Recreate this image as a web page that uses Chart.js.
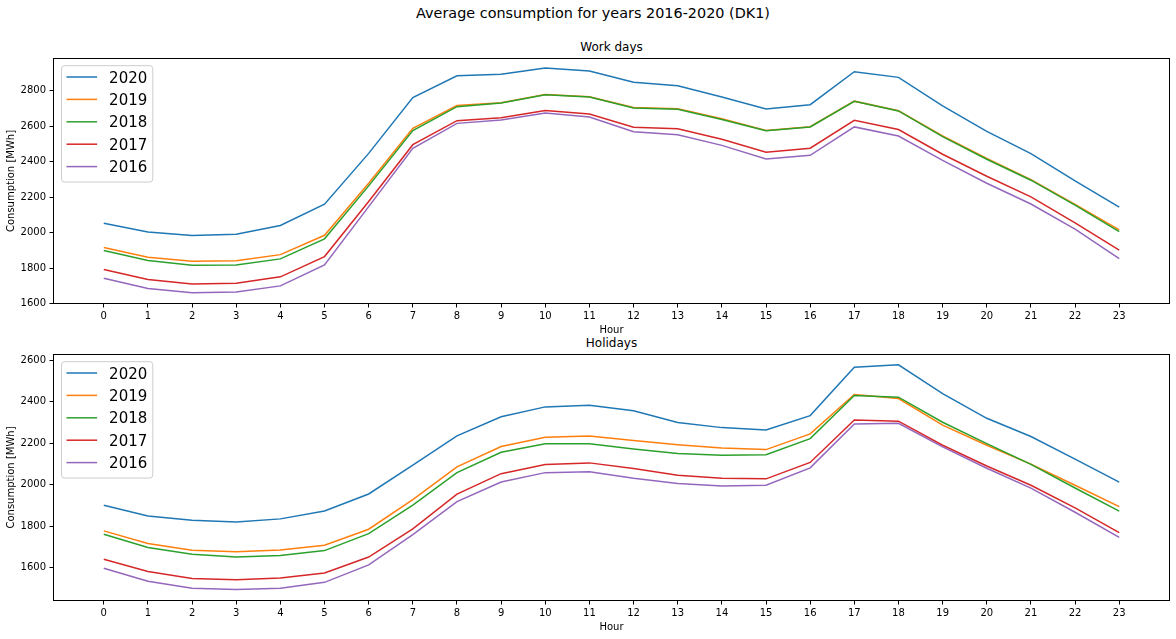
<!DOCTYPE html>
<html>
<head>
<meta charset="utf-8">
<script src="https://cdn.jsdelivr.net/npm/chart.js@4.4.1/dist/chart.umd.min.js"></script>
<style>
  html, body { margin: 0; padding: 0; background: #fff; }
  body { width: 1176px; height: 639px; position: relative; overflow: hidden; font-family: "DejaVu Sans", sans-serif; }
  .txt { position: absolute; white-space: nowrap; color: #000; line-height: 1.164; transform: translateX(-50%); }
  canvas { position: absolute; left: 0; }
</style>
</head>
<body>
<div class="txt" id="suptitle" style="left:593px; top:5px; font-size:14.4px;">Average consumption for years 2016-2020 (DK1)</div>
<div class="txt" id="t1" style="left:611.5px; top:40.7px; font-size:12px;">Work days</div>
<div class="txt" id="t2" style="left:611.5px; top:336.7px; font-size:12px;">Holidays</div>
<canvas id="c1" width="1176" height="340" style="top:0px"></canvas>
<canvas id="c2" width="1176" height="299" style="top:340px"></canvas>
<script>
// ---- data ----
const hours = [0,1,2,3,4,5,6,7,8,9,10,11,12,13,14,15,16,17,18,19,20,21,22,23];
const years = ["2020","2019","2018","2017","2016"];
const colors = ["#1f77b4","#ff7f0e","#2ca02c","#d62728","#9467bd"];

const work2020 = [2054,2005,1984,1992,2041,2161,2447,2761,2884,2892,2927,2911,2847,2828,2764,2697,2721,2907,2875,2714,2571,2446,2292,2144];
const work2019 = [1917,1862,1840,1842,1877,1986,2279,2588,2716,2732,2779,2766,2705,2698,2642,2576,2597,2741,2687,2546,2418,2299,2160,2016];
const work2018 = [1900,1844,1817,1819,1853,1966,2264,2575,2710,2731,2777,2764,2702,2696,2638,2574,2596,2740,2686,2541,2414,2296,2156,2007];
const work2017 = [1793,1737,1712,1716,1752,1866,2176,2496,2631,2648,2689,2669,2594,2586,2526,2453,2476,2633,2581,2442,2318,2202,2056,1902];
const work2016 = [1744,1686,1662,1667,1701,1819,2147,2476,2616,2635,2674,2652,2569,2552,2492,2416,2436,2596,2545,2408,2279,2162,2020,1855];

const hol2020 = [1901,1849,1828,1820,1835,1873,1955,2094,2235,2327,2375,2383,2356,2300,2275,2264,2333,2566,2578,2439,2320,2232,2123,2012];
const hol2019 = [1777,1716,1684,1676,1685,1708,1785,1928,2086,2184,2229,2235,2213,2193,2177,2169,2245,2435,2415,2287,2190,2099,1997,1894];
const hol2018 = [1761,1697,1664,1651,1658,1682,1764,1901,2058,2156,2197,2197,2172,2150,2142,2144,2222,2430,2422,2301,2198,2098,1984,1872];
const hol2017 = [1640,1581,1547,1541,1550,1574,1651,1787,1954,2053,2097,2105,2078,2045,2031,2028,2107,2312,2306,2190,2090,1997,1888,1769];
const hol2016 = [1597,1534,1500,1494,1500,1529,1613,1759,1918,2013,2058,2062,2031,2005,1994,1997,2081,2293,2296,2182,2079,1983,1867,1746];

const workTicks = [1600,1800,2000,2200,2400,2600,2800];
const holTicks = [1600,1800,2000,2200,2400,2600];
const workRange = [1599, 2984];
const holRange = [1439, 2630];

// ---- plugins ----
const frameBox = {
  id: 'frameBox',
  afterDatasetsDraw(chart) {
    const {ctx, chartArea: a} = chart;
    ctx.save();
    ctx.strokeStyle = '#000';
    ctx.lineWidth = 1;
    ctx.strokeRect(Math.round(a.left) + 0.5, Math.round(a.top) + 0.5,
                   Math.round(a.right - a.left) - 1, Math.round(a.bottom - a.top) - 1);
    ctx.restore();
  }
};
const mplLegend = {
  id: 'mplLegend',
  afterDraw(chart) {
    const {ctx, chartArea: a} = chart;
    const ds = chart.data.datasets;
    const x0 = a.left + 8.5, y0 = a.top + 7.7, w = 91.3, h = 116.3;
    ctx.save();
    ctx.beginPath();
    ctx.roundRect(x0, y0, w, h, 3);
    ctx.fillStyle = 'rgba(255,255,255,0.8)';
    ctx.fill();
    ctx.strokeStyle = '#cccccc';
    ctx.lineWidth = 1;
    ctx.stroke();
    ds.forEach((d, i) => {
      const y = y0 + 11.3 + 22.4 * i;
      ctx.beginPath();
      ctx.moveTo(x0 + 5, y);
      ctx.lineTo(x0 + 35.6, y);
      ctx.strokeStyle = d.borderColor;
      ctx.lineWidth = 1.5;
      ctx.stroke();
      ctx.fillStyle = '#000';
      ctx.font = '15px "DejaVu Sans"';
      ctx.textAlign = 'left';
      ctx.textBaseline = 'alphabetic';
      ctx.fillText(d.label, x0 + 47.6, y + 5.5);
    });
    ctx.restore();
  }
};

Chart.defaults.font.family = '"DejaVu Sans", sans-serif';
Chart.defaults.font.size = 10;
Chart.defaults.color = '#000';

function makeChart(id, series, yTicks, yRange, pad) {
  const datasets = series.map((vals, i) => ({
    label: years[i],
    data: hours.map((hr, j) => ({x: hr, y: vals[j]})),
    borderColor: colors[i],
    backgroundColor: colors[i],
    borderWidth: 1.5,
    pointRadius: 0,
    pointHoverRadius: 0,
    tension: 0,
    fill: false,
    order: -i
  }));
  return new Chart(document.getElementById(id), {
    type: 'line',
    data: { datasets },
    options: {
      responsive: false,
      animation: false,
      devicePixelRatio: 1,
      layout: { padding: pad },
      plugins: { legend: { display: false }, title: { display: false }, tooltip: { enabled: false } },
      scales: {
        x: {
          type: 'linear',
          min: -1.15, max: 24.15,
          afterBuildTicks(s) { s.ticks = hours.map(v => ({value: v})); },
          afterFit(s) { s.height = 32; },
          grid: { drawOnChartArea: false, drawTicks: true, tickLength: 3.5, color: '#000', tickColor: '#000', lineWidth: 1 },
          border: { display: false },
          ticks: { padding: 3, autoSkip: false, maxRotation: 0, font: { size: 10 }, color: '#000' },
          title: { display: true, text: 'Hour', font: { size: 10 }, color: '#000', padding: { top: 0, bottom: 0 } }
        },
        y: {
          type: 'linear',
          min: yRange[0], max: yRange[1],
          afterBuildTicks(s) { s.ticks = yTicks.map(v => ({value: v})); },
          afterFit(s) { s.width = 53; },
          grid: { drawOnChartArea: false, drawTicks: true, tickLength: 3.5, color: '#000', tickColor: '#000', lineWidth: 1 },
          border: { display: false },
          ticks: { padding: 3.5, font: { size: 10 }, color: '#000', callback: v => String(v) },
          title: { display: true, text: 'Consumption [MWh]', font: { size: 10 }, color: '#000', padding: { top: 5, bottom: 0 } }
        }
      }
    },
    plugins: [frameBox, mplLegend]
  });
}

makeChart('c1', [work2020, work2019, work2018, work2017, work2016], workTicks, workRange,
          { top: 58, left: 0, right: 6, bottom: 4 });
makeChart('c2', [hol2020, hol2019, hol2018, hol2017, hol2016], holTicks, holRange,
          { top: 14, left: 0, right: 6, bottom: 6 });
</script>
</body>
</html>
